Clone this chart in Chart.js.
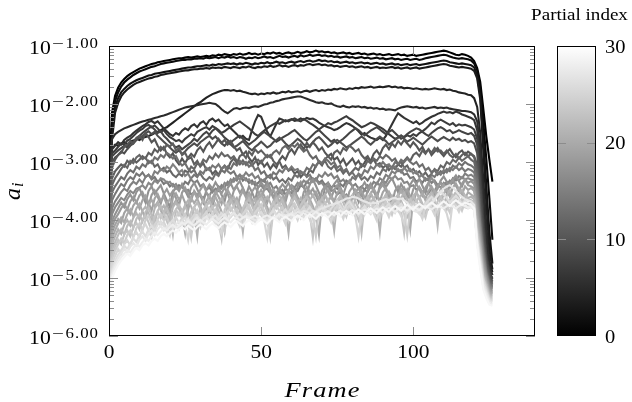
<!DOCTYPE html>
<html>
<head>
<meta charset="utf-8">
<title>Partial amplitudes per frame</title>
<script src="https://cdn.jsdelivr.net/npm/chart.js@4.4.1/dist/chart.umd.min.js"></script>
<style>
  html, body { margin: 0; padding: 0; background: #fff; }
  canvas { display: block; }
</style>
</head>
<body>
<canvas id="chart" width="632" height="402"></canvas>
<script>
// Amplitude a_i of each partial, one value per frame, stored as log10(a_i).
const partial00 = [
  -3.25,-2.15,-1.86,-1.72,-1.63,-1.57,-1.52,-1.48,-1.45,-1.42,
  -1.39,-1.37,-1.35,-1.33,-1.31,-1.30,-1.28,-1.27,-1.26,-1.25,
  -1.24,-1.23,-1.22,-1.21,-1.21,-1.20,-1.19,-1.20,-1.19,-1.18,
  -1.19,-1.18,-1.17,-1.18,-1.16,-1.17,-1.15,-1.16,-1.14,-1.15,
  -1.16,-1.14,-1.15,-1.13,-1.15,-1.14,-1.12,-1.14,-1.13,-1.15,
  -1.13,-1.14,-1.12,-1.13,-1.11,-1.13,-1.12,-1.14,-1.12,-1.11,
  -1.13,-1.12,-1.10,-1.12,-1.11,-1.09,-1.11,-1.10,-1.08,-1.10,
  -1.09,-1.11,-1.10,-1.12,-1.11,-1.13,-1.12,-1.11,-1.13,-1.12,
  -1.14,-1.13,-1.12,-1.14,-1.13,-1.15,-1.14,-1.13,-1.15,-1.14,
  -1.16,-1.15,-1.14,-1.16,-1.15,-1.14,-1.16,-1.15,-1.17,-1.16,
  -1.15,-1.17,-1.16,-1.15,-1.14,-1.13,-1.12,-1.11,-1.10,-1.09,
  -1.08,-1.09,-1.11,-1.13,-1.15,-1.16,-1.14,-1.15,-1.17,-1.20,
  -1.26,-1.38,-1.62,-2.08,-2.56,-2.96,-3.34
];
const partial01 = [
  -3.35,-2.30,-1.95,-1.80,-1.70,-1.63,-1.58,-1.54,-1.50,-1.47,
  -1.44,-1.42,-1.40,-1.38,-1.36,-1.35,-1.33,-1.31,-1.30,-1.29,
  -1.28,-1.27,-1.26,-1.25,-1.24,-1.24,-1.23,-1.23,-1.22,-1.22,
  -1.21,-1.22,-1.20,-1.21,-1.20,-1.19,-1.21,-1.19,-1.20,-1.18,
  -1.20,-1.19,-1.21,-1.19,-1.20,-1.22,-1.20,-1.21,-1.19,-1.21,
  -1.20,-1.18,-1.20,-1.19,-1.21,-1.19,-1.17,-1.19,-1.18,-1.20,
  -1.18,-1.17,-1.19,-1.16,-1.18,-1.17,-1.15,-1.17,-1.16,-1.15,
  -1.17,-1.16,-1.18,-1.17,-1.19,-1.18,-1.20,-1.19,-1.18,-1.20,
  -1.19,-1.21,-1.20,-1.19,-1.21,-1.20,-1.22,-1.21,-1.20,-1.22,
  -1.21,-1.23,-1.22,-1.21,-1.23,-1.22,-1.24,-1.23,-1.22,-1.24,
  -1.23,-1.22,-1.24,-1.23,-1.21,-1.20,-1.19,-1.18,-1.17,-1.16,
  -1.15,-1.16,-1.18,-1.20,-1.21,-1.22,-1.21,-1.22,-1.23,-1.25,
  -1.30,-1.42,-1.72,-2.30,-2.95,-3.62,-4.34
];
const partial02 = [
  -3.40,-2.45,-2.05,-1.90,-1.80,-1.74,-1.69,-1.65,-1.62,-1.59,
  -1.57,-1.55,-1.53,-1.51,-1.50,-1.48,-1.47,-1.46,-1.45,-1.44,
  -1.43,-1.42,-1.41,-1.40,-1.39,-1.38,-1.37,-1.37,-1.36,-1.35,
  -1.35,-1.34,-1.33,-1.34,-1.32,-1.33,-1.31,-1.32,-1.31,-1.30,
  -1.31,-1.30,-1.32,-1.30,-1.31,-1.29,-1.30,-1.32,-1.30,-1.31,
  -1.29,-1.30,-1.28,-1.30,-1.29,-1.27,-1.29,-1.28,-1.30,-1.28,
  -1.27,-1.29,-1.27,-1.26,-1.28,-1.26,-1.25,-1.27,-1.26,-1.24,
  -1.26,-1.25,-1.27,-1.26,-1.28,-1.27,-1.29,-1.28,-1.27,-1.29,
  -1.28,-1.30,-1.29,-1.28,-1.30,-1.29,-1.31,-1.30,-1.29,-1.31,
  -1.30,-1.32,-1.31,-1.30,-1.32,-1.31,-1.33,-1.32,-1.31,-1.33,
  -1.32,-1.31,-1.33,-1.32,-1.31,-1.30,-1.29,-1.28,-1.27,-1.26,
  -1.25,-1.26,-1.28,-1.29,-1.30,-1.31,-1.30,-1.31,-1.32,-1.33,
  -1.37,-1.50,-1.85,-2.60,-3.40,-4.20,-4.75
];
const partial03 = [
  -3.50,-2.60,-2.15,-1.98,-1.87,-1.80,-1.75,-1.71,-1.67,-1.64,
  -1.62,-1.60,-1.58,-1.56,-1.55,-1.53,-1.52,-1.50,-1.49,-1.48,
  -1.47,-1.46,-1.45,-1.44,-1.43,-1.42,-1.42,-1.41,-1.40,-1.40,
  -1.39,-1.39,-1.38,-1.39,-1.37,-1.38,-1.37,-1.38,-1.36,-1.37,
  -1.38,-1.36,-1.37,-1.38,-1.36,-1.37,-1.35,-1.37,-1.38,-1.36,
  -1.37,-1.35,-1.36,-1.34,-1.36,-1.35,-1.33,-1.35,-1.34,-1.36,
  -1.34,-1.33,-1.35,-1.33,-1.34,-1.32,-1.31,-1.33,-1.32,-1.31,
  -1.33,-1.32,-1.34,-1.33,-1.35,-1.34,-1.36,-1.35,-1.34,-1.36,
  -1.35,-1.37,-1.36,-1.35,-1.37,-1.36,-1.38,-1.37,-1.36,-1.38,
  -1.37,-1.38,-1.37,-1.36,-1.38,-1.37,-1.39,-1.38,-1.37,-1.39,
  -1.38,-1.37,-1.39,-1.38,-1.37,-1.36,-1.35,-1.34,-1.33,-1.32,
  -1.31,-1.32,-1.34,-1.35,-1.36,-1.37,-1.36,-1.37,-1.38,-1.39,
  -1.43,-1.56,-1.92,-2.80,-3.70,-4.50,-4.85
];
const partial04 = [
  -3.30,-2.75,-2.70,-2.72,-2.68,-2.66,-2.70,-2.65,-2.63,-2.60,
  -2.62,-2.58,-2.57,-2.55,-2.53,-2.50,-2.48,-2.45,-2.42,-2.40,
  -2.36,-2.32,-2.28,-2.24,-2.20,-2.16,-2.12,-2.08,-2.04,-2.00,
  -1.97,-1.93,-1.89,-1.86,-1.83,-1.81,-1.79,-1.77,-1.76,-1.76,
  -1.77,-1.76,-1.78,-1.77,-1.79,-1.80,-1.82,-1.83,-1.82,-1.84,
  -1.82,-1.83,-1.81,-1.82,-1.80,-1.82,-1.81,-1.79,-1.80,-1.78,
  -1.80,-1.79,-1.78,-1.80,-1.78,-1.77,-1.79,-1.77,-1.76,-1.78,
  -1.76,-1.77,-1.75,-1.76,-1.74,-1.75,-1.73,-1.74,-1.75,-1.73,
  -1.74,-1.72,-1.73,-1.71,-1.72,-1.71,-1.70,-1.72,-1.71,-1.70,
  -1.71,-1.70,-1.69,-1.71,-1.70,-1.72,-1.71,-1.73,-1.72,-1.73,
  -1.74,-1.73,-1.74,-1.75,-1.74,-1.75,-1.74,-1.73,-1.74,-1.75,
  -1.74,-1.76,-1.75,-1.77,-1.78,-1.80,-1.81,-1.82,-1.84,-1.85,
  -1.90,-2.05,-2.50,-3.30,-4.10,-4.70,-4.90
];
const partial05 = [
  -3.20,-2.60,-2.52,-2.48,-2.45,-2.42,-2.40,-2.38,-2.36,-2.34,
  -2.32,-2.30,-2.29,-2.27,-2.26,-2.24,-2.23,-2.21,-2.20,-2.18,
  -2.16,-2.14,-2.12,-2.10,-2.08,-2.06,-2.05,-2.04,-2.03,-2.02,
  -2.01,-2.00,-1.99,-1.98,-1.99,-2.00,-2.04,-2.09,-2.13,-2.16,
  -2.12,-2.08,-2.07,-2.09,-2.07,-2.06,-2.07,-2.05,-2.04,-2.05,
  -2.03,-2.01,-2.00,-1.98,-1.97,-1.95,-1.94,-1.92,-1.91,-1.90,
  -1.89,-1.88,-1.87,-1.87,-1.89,-1.91,-1.93,-1.95,-1.97,-1.98,
  -1.97,-1.99,-2.00,-1.99,-2.02,-2.04,-2.05,-2.03,-2.05,-2.06,
  -2.04,-2.05,-2.04,-2.06,-2.05,-2.07,-2.06,-2.08,-2.07,-2.09,
  -2.08,-2.10,-2.09,-2.10,-2.11,-2.08,-2.06,-2.05,-2.04,-2.05,
  -2.06,-2.05,-2.07,-2.06,-2.08,-2.07,-2.06,-2.05,-2.07,-2.06,
  -2.07,-2.06,-2.08,-2.09,-2.10,-2.11,-2.12,-2.12,-2.13,-2.14,
  -2.18,-2.30,-2.75,-3.50,-4.30,-4.80,-4.95
];
const partial06 = [
  -3.40,-2.78,-2.72,-2.66,-2.70,-2.62,-2.58,-2.55,-2.50,-2.46,
  -2.42,-2.38,-2.35,-2.31,-2.29,-2.33,-2.30,-2.36,-2.42,-2.47,
  -2.52,-2.55,-2.50,-2.53,-2.46,-2.42,-2.45,-2.38,-2.35,-2.40,
  -2.33,-2.30,-2.36,-2.28,-2.25,-2.30,-2.27,-2.33,-2.38,-2.35,
  -2.42,-2.47,-2.52,-2.58,-2.55,-2.60,-2.62,-2.45,-2.30,-2.19,
  -2.22,-2.35,-2.48,-2.56,-2.45,-2.34,-2.25,-2.27,-2.30,-2.28,
  -2.26,-2.29,-2.28,-2.25,-2.27,-2.24,-2.26,-2.25,-2.28,-2.32,
  -2.35,-2.38,-2.40,-2.42,-2.45,-2.43,-2.40,-2.36,-2.33,-2.35,
  -2.38,-2.42,-2.47,-2.53,-2.50,-2.55,-2.58,-2.60,-2.62,-2.58,
  -2.62,-2.55,-2.45,-2.35,-2.25,-2.16,-2.20,-2.24,-2.27,-2.30,
  -2.33,-2.30,-2.35,-2.32,-2.28,-2.25,-2.22,-2.20,-2.17,-2.15,
  -2.13,-2.15,-2.14,-2.16,-2.13,-2.15,-2.18,-2.20,-2.22,-2.24,
  -2.28,-2.45,-3.00,-3.90,-4.55,-4.85,-4.95
];
const partial07 = [
  -3.50,-2.85,-2.80,-2.74,-2.68,-2.70,-2.63,-2.60,-2.55,-2.50,
  -2.46,-2.43,-2.38,-2.36,-2.40,-2.37,-2.42,-2.48,-2.45,-2.52,
  -2.57,-2.60,-2.64,-2.62,-2.66,-2.60,-2.56,-2.52,-2.55,-2.48,
  -2.45,-2.42,-2.40,-2.44,-2.38,-2.41,-2.45,-2.50,-2.47,-2.43,
  -2.40,-2.36,-2.33,-2.30,-2.34,-2.38,-2.42,-2.47,-2.52,-2.55,
  -2.50,-2.46,-2.42,-2.38,-2.35,-2.32,-2.34,-2.31,-2.28,-2.30,
  -2.27,-2.25,-2.28,-2.30,-2.26,-2.29,-2.33,-2.36,-2.40,-2.44,
  -2.40,-2.37,-2.33,-2.35,-2.32,-2.30,-2.27,-2.24,-2.21,-2.25,
  -2.28,-2.32,-2.36,-2.40,-2.38,-2.35,-2.32,-2.34,-2.37,-2.40,
  -2.43,-2.47,-2.52,-2.56,-2.60,-2.58,-2.55,-2.57,-2.54,-2.56,
  -2.52,-2.55,-2.50,-2.47,-2.43,-2.38,-2.32,-2.35,-2.30,-2.27,
  -2.30,-2.33,-2.36,-2.33,-2.38,-2.35,-2.37,-2.36,-2.38,-2.40,
  -2.44,-2.60,-3.20,-4.00,-4.60,-4.90,-5.00
];
const partial08 = [
  -3.60,-2.90,-2.85,-2.80,-2.76,-2.72,-2.75,-2.68,-2.65,-2.60,
  -2.55,-2.50,-2.46,-2.42,-2.39,-2.44,-2.50,-2.47,-2.55,-2.60,
  -2.66,-2.70,-2.75,-2.72,-2.78,-2.74,-2.70,-2.66,-2.60,-2.64,
  -2.58,-2.52,-2.48,-2.53,-2.46,-2.42,-2.47,-2.52,-2.58,-2.62,
  -2.66,-2.62,-2.58,-2.55,-2.60,-2.65,-2.70,-2.66,-2.62,-2.57,
  -2.52,-2.48,-2.52,-2.56,-2.60,-2.65,-2.62,-2.58,-2.55,-2.52,
  -2.48,-2.45,-2.50,-2.55,-2.60,-2.63,-2.58,-2.53,-2.48,-2.45,
  -2.50,-2.55,-2.60,-2.65,-2.62,-2.68,-2.64,-2.60,-2.55,-2.50,
  -2.46,-2.42,-2.45,-2.50,-2.54,-2.50,-2.46,-2.43,-2.40,-2.44,
  -2.48,-2.52,-2.48,-2.45,-2.50,-2.55,-2.60,-2.57,-2.52,-2.48,
  -2.45,-2.42,-2.44,-2.48,-2.52,-2.55,-2.50,-2.46,-2.42,-2.40,
  -2.43,-2.47,-2.45,-2.50,-2.48,-2.45,-2.48,-2.50,-2.52,-2.50,
  -2.55,-2.70,-3.35,-4.10,-4.65,-4.90,-5.02
];
const partial09 = [
  -3.70,-3.00,-2.92,-2.88,-2.82,-2.85,-2.78,-2.72,-2.68,-2.62,
  -2.58,-2.55,-2.50,-2.47,-2.52,-2.48,-2.55,-2.60,-2.65,-2.70,
  -2.75,-2.80,-2.84,-2.80,-2.86,-2.82,-2.76,-2.72,-2.68,-2.72,
  -2.66,-2.62,-2.58,-2.55,-2.60,-2.56,-2.62,-2.68,-2.72,-2.66,
  -2.70,-2.75,-2.72,-2.68,-2.64,-2.70,-2.76,-2.80,-2.74,-2.70,
  -2.65,-2.70,-2.75,-2.72,-2.66,-2.62,-2.58,-2.62,-2.68,-2.73,
  -2.70,-2.65,-2.60,-2.64,-2.70,-2.75,-2.72,-2.66,-2.60,-2.57,
  -2.62,-2.68,-2.74,-2.70,-2.65,-2.62,-2.66,-2.70,-2.75,-2.72,
  -2.68,-2.64,-2.60,-2.56,-2.60,-2.66,-2.70,-2.65,-2.60,-2.56,
  -2.60,-2.64,-2.70,-2.66,-2.62,-2.58,-2.54,-2.60,-2.65,-2.62,
  -2.58,-2.62,-2.66,-2.70,-2.65,-2.60,-2.56,-2.60,-2.64,-2.60,
  -2.57,-2.60,-2.63,-2.58,-2.62,-2.60,-2.64,-2.62,-2.66,-2.64,
  -2.68,-2.85,-3.50,-4.20,-4.70,-4.95,-5.05
];
const partial10 = [
  -3.75,-3.10,-2.96,-2.88,-2.84,-2.74,-2.70,-2.64,-2.68,-2.58,
  -2.55,-2.62,-2.50,-2.57,-2.66,-2.61,-2.72,-2.80,-2.74,-2.86,
  -2.92,-2.85,-2.97,-3.04,-2.94,-3.02,-2.93,-2.86,-2.91,-2.80,
  -2.74,-2.82,-2.72,-2.66,-2.75,-2.68,-2.60,-2.67,-2.62,-2.70,
  -2.64,-2.73,-2.80,-2.76,-2.87,-2.82,-2.93,-3.00,-2.92,-3.05,
  -2.98,-3.08,-3.02,-3.12,-3.04,-3.10,-2.97,-2.90,-2.96,-2.84,
  -2.78,-2.86,-2.76,-2.70,-2.78,-2.67,-2.74,-2.66,-2.72,-2.80,
  -2.75,-2.84,-2.90,-2.86,-2.96,-2.92,-3.02,-2.95,-3.06,-3.00,
  -2.94,-3.04,-2.98,-3.08,-3.01,-2.92,-2.98,-2.86,-2.80,-2.88,
  -2.76,-2.70,-2.78,-2.68,-2.74,-2.64,-2.70,-2.62,-2.68,-2.74,
  -2.66,-2.72,-2.80,-2.74,-2.84,-2.78,-2.88,-2.82,-2.76,-2.84,
  -2.90,-2.83,-2.78,-2.86,-2.92,-2.84,-2.80,-2.88,-2.82,-2.86,
  -2.90,-3.05,-3.70,-4.35,-4.75,-5.00,-5.08
];
const partial11 = [
  -3.88,-3.28,-3.16,-3.10,-3.04,-3.08,-2.98,-3.03,-2.95,-3.01,
  -2.96,-2.90,-2.94,-2.84,-2.88,-2.78,-2.83,-2.74,-2.79,-2.70,
  -2.73,-2.68,-2.80,-2.76,-2.88,-2.84,-2.95,-2.92,-3.04,-2.98,
  -3.08,-3.02,-3.14,-3.10,-3.21,-3.15,-3.22,-3.12,-3.06,-3.12,
  -3.00,-2.94,-3.02,-2.90,-2.86,-2.93,-2.82,-2.88,-2.78,-2.84,
  -2.80,-2.86,-2.92,-2.88,-2.98,-3.04,-2.99,-3.10,-3.06,-3.15,
  -3.12,-3.20,-3.16,-3.26,-3.20,-3.24,-3.14,-3.18,-3.06,-3.00,
  -3.06,-2.95,-2.90,-2.96,-2.84,-2.80,-2.86,-2.76,-2.80,-2.72,
  -2.76,-2.82,-2.78,-2.88,-2.94,-2.90,-3.00,-2.96,-3.05,-3.02,
  -3.10,-3.06,-3.14,-3.08,-3.12,-3.04,-3.08,-2.98,-2.92,-2.98,
  -2.88,-2.84,-2.90,-2.80,-2.86,-2.78,-2.84,-2.76,-2.82,-2.80,
  -2.86,-2.80,-2.88,-2.92,-2.86,-2.94,-2.88,-2.84,-2.90,-2.86,
  -2.92,-3.15,-3.80,-4.40,-4.80,-5.02,-5.10
];
const partial12 = [
  -4.00,-3.40,-3.28,-3.20,-3.12,-3.05,-3.10,-2.98,-3.02,-2.92,
  -2.88,-2.95,-2.92,-3.02,-2.98,-3.08,-3.04,-3.14,-3.10,-3.18,
  -3.14,-3.22,-3.26,-3.20,-3.24,-3.15,-3.18,-3.08,-3.12,-3.02,
  -3.06,-2.96,-3.00,-2.90,-2.95,-2.86,-2.92,-2.84,-2.90,-2.88,
  -2.94,-2.90,-2.98,-3.04,-2.97,-3.05,-2.99,-3.06,-3.00,-2.96,
  -3.02,-2.94,-2.88,-2.92,-2.84,-2.80,-2.86,-2.76,-2.72,-2.78,
  -2.70,-2.74,-2.68,-2.76,-2.82,-2.78,-2.88,-2.94,-2.90,-3.00,
  -3.04,-2.98,-3.08,-3.12,-3.06,-3.16,-3.12,-3.20,-3.14,-3.22,
  -3.16,-3.10,-3.14,-3.04,-3.08,-2.98,-3.02,-2.94,-2.98,-2.90,
  -2.94,-2.88,-2.92,-2.98,-2.94,-3.04,-3.00,-3.10,-3.06,-3.16,
  -3.12,-3.20,-3.16,-3.24,-3.18,-3.26,-3.20,-3.12,-3.16,-3.06,
  -3.10,-3.00,-3.04,-2.96,-3.00,-2.92,-2.98,-2.94,-2.90,-2.96,
  -3.00,-3.22,-3.90,-4.45,-4.85,-5.05,-5.12
];
const partial13 = [
  -4.10,-3.52,-3.42,-3.34,-3.26,-3.30,-3.20,-3.14,-3.18,-3.08,
  -3.12,-3.04,-3.08,-2.98,-3.02,-2.92,-2.96,-2.88,-2.92,-2.84,
  -2.88,-2.94,-2.90,-3.00,-3.06,-3.02,-3.12,-3.18,-3.14,-3.24,
  -3.20,-3.28,-3.32,-3.26,-3.30,-3.20,-3.24,-3.14,-3.18,-3.08,
  -3.12,-3.02,-3.06,-2.98,-3.04,-3.00,-3.08,-3.04,-3.14,-3.10,
  -3.20,-3.16,-3.26,-3.22,-3.30,-3.26,-3.34,-3.30,-3.36,-3.28,
  -3.32,-3.22,-3.26,-3.16,-3.20,-3.10,-3.14,-3.04,-3.08,-2.98,
  -3.02,-2.94,-2.98,-3.04,-3.00,-3.10,-3.06,-3.16,-3.12,-3.22,
  -3.18,-3.26,-3.22,-3.30,-3.26,-3.32,-3.24,-3.28,-3.18,-3.22,
  -3.12,-3.16,-3.06,-3.10,-3.00,-3.04,-2.96,-3.00,-2.94,-3.00,
  -3.04,-3.00,-3.08,-3.04,-3.14,-3.10,-3.18,-3.14,-3.22,-3.16,
  -3.20,-3.12,-3.16,-3.06,-3.10,-3.02,-3.06,-3.00,-3.04,-3.06,
  -3.10,-3.30,-4.00,-4.50,-4.88,-5.08,-5.14
];
const partial14 = [
  -4.22,-3.66,-3.55,-3.46,-3.38,-3.42,-3.32,-3.26,-3.30,-3.20,
  -3.24,-3.18,-3.26,-3.22,-3.30,-3.26,-3.34,-3.30,-3.38,-3.34,
  -3.42,-3.38,-3.46,-3.40,-3.44,-3.34,-3.38,-3.28,-3.22,-3.26,
  -3.16,-3.20,-3.10,-3.14,-3.06,-3.10,-3.04,-3.12,-3.08,-3.16,
  -3.20,-3.16,-3.26,-3.22,-3.32,-3.28,-3.36,-3.32,-3.40,-3.36,
  -3.30,-3.34,-3.24,-3.28,-3.18,-3.22,-3.14,-3.18,-3.10,-3.14,
  -3.08,-3.14,-3.12,-3.20,-3.18,-3.26,-3.22,-3.32,-3.28,-3.36,
  -3.32,-3.40,-3.36,-3.44,-3.40,-3.46,-3.38,-3.42,-3.32,-3.36,
  -3.26,-3.30,-3.20,-3.24,-3.14,-3.18,-3.08,-3.12,-3.04,-3.08,
  -3.00,-3.06,-3.04,-3.12,-3.08,-3.16,-3.14,-3.22,-3.20,-3.28,
  -3.26,-3.34,-3.30,-3.36,-3.28,-3.32,-3.22,-3.26,-3.18,-3.22,
  -3.14,-3.18,-3.10,-3.14,-3.08,-3.14,-3.10,-3.16,-3.12,-3.14,
  -3.18,-3.42,-4.05,-4.55,-4.90,-5.10,-5.16
];
const partial15 = [
  -4.30,-3.80,-3.68,-3.60,-3.52,-3.46,-3.50,-3.40,-3.34,-3.38,
  -3.30,-3.36,-3.26,-3.22,-3.28,-3.16,-3.20,-3.12,-3.16,-3.08,
  -3.12,-3.04,-3.10,-3.18,-3.14,-3.24,-3.20,-3.30,-3.36,-3.32,
  -3.42,-3.38,-3.48,-3.44,-3.52,-3.46,-3.50,-3.40,-3.44,-3.34,
  -3.38,-3.28,-3.32,-3.22,-3.26,-3.18,-3.24,-3.20,-3.28,-3.24,
  -3.34,-3.30,-3.40,-3.36,-3.46,-3.42,-3.52,-3.48,-3.56,-3.50,
  -3.54,-3.46,-3.50,-3.40,-3.44,-3.34,-3.38,-3.28,-3.32,-3.22,
  -3.26,-3.18,-3.24,-3.20,-3.28,-3.24,-3.34,-3.30,-3.38,-3.34,
  -3.42,-3.38,-3.46,-3.42,-3.48,-3.40,-3.44,-3.34,-3.38,-3.28,
  -3.32,-3.22,-3.26,-3.16,-3.20,-3.12,-3.18,-3.10,-3.16,-3.12,
  -3.20,-3.16,-3.26,-3.22,-3.32,-3.28,-3.36,-3.32,-3.40,-3.36,
  -3.42,-3.34,-3.38,-3.28,-3.32,-3.24,-3.28,-3.20,-3.24,-3.22,
  -3.26,-3.52,-4.10,-4.60,-4.92,-5.12,-5.18
];
const partial16 = [
  -4.40,-3.90,-3.78,-3.70,-3.62,-3.66,-3.56,-3.50,-3.54,-3.46,
  -3.44,-3.40,-3.46,-3.36,-3.40,-3.32,-3.36,-3.28,-3.30,-3.36,
  -3.34,-3.42,-3.38,-3.46,-3.42,-3.50,-3.48,-3.56,-3.52,-3.60,
  -3.58,-3.62,-3.54,-3.58,-3.48,-3.52,-3.42,-3.46,-3.36,-3.40,
  -3.30,-3.34,-3.26,-3.30,-3.24,-3.32,-3.30,-3.38,-3.34,-3.44,
  -3.40,-3.48,-3.46,-3.54,-3.50,-3.58,-3.52,-3.56,-3.46,-3.50,
  -3.40,-3.44,-3.36,-3.40,-3.32,-3.36,-3.28,-3.34,-3.30,-3.38,
  -3.36,-3.44,-3.42,-3.50,-3.48,-3.56,-3.52,-3.60,-3.56,-3.62,
  -3.58,-3.62,-3.54,-3.58,-3.48,-3.52,-3.42,-3.46,-3.36,-3.40,
  -3.32,-3.36,-3.26,-3.30,-3.24,-3.30,-3.28,-3.36,-3.34,-3.42,
  -3.40,-3.48,-3.44,-3.52,-3.48,-3.54,-3.46,-3.50,-3.40,-3.44,
  -3.36,-3.40,-3.32,-3.36,-3.28,-3.32,-3.26,-3.30,-3.28,-3.30,
  -3.32,-3.62,-4.15,-4.65,-4.95,-5.15,-5.20
];
const partial17 = [
  -4.50,-4.02,-3.90,-3.80,-3.70,-3.78,-3.64,-3.56,-3.66,-3.52,
  -3.45,-3.58,-3.70,-3.50,-3.42,-3.55,-3.47,-3.40,-3.54,-3.66,
  -3.78,-3.52,-3.43,-3.50,-3.38,-3.49,-3.60,-3.44,-3.36,-3.47,
  -3.58,-3.70,-3.48,-3.39,-3.46,-3.35,-3.44,-3.57,-3.68,-3.45,
  -3.37,-3.48,-3.40,-3.33,-3.45,-3.58,-3.42,-3.52,-3.66,-3.44,
  -3.35,-3.43,-3.34,-3.46,-3.59,-3.72,-3.47,-3.38,-3.45,-3.36,
  -3.48,-3.60,-3.42,-3.34,-3.44,-3.55,-3.38,-3.30,-3.41,-3.53,
  -3.66,-3.45,-3.36,-3.47,-3.38,-3.31,-3.43,-3.56,-3.40,-3.32,
  -3.42,-3.54,-3.68,-3.44,-3.35,-3.45,-3.37,-3.50,-3.62,-3.41,
  -3.33,-3.43,-3.35,-3.28,-3.40,-3.52,-3.38,-3.47,-3.58,-3.39,
  -3.30,-3.38,-3.29,-3.41,-3.53,-3.36,-3.27,-3.35,-3.46,-3.32,
  -3.25,-3.34,-3.44,-3.30,-3.23,-3.33,-3.42,-3.30,-3.36,-3.33,
  -3.38,-3.72,-4.20,-4.70,-4.98,-5.18,-5.22
];
const partial18 = [
  -4.60,-4.12,-3.98,-3.90,-3.80,-3.72,-3.82,-3.68,-3.60,-3.70,
  -3.58,-3.52,-3.64,-3.76,-3.57,-3.49,-3.60,-3.72,-3.55,-3.47,
  -3.58,-3.50,-3.62,-3.75,-3.53,-3.44,-3.55,-3.66,-3.50,-3.58,
  -3.48,-3.40,-3.52,-3.64,-3.78,-3.56,-3.46,-3.54,-3.44,-3.55,
  -3.68,-3.50,-3.42,-3.53,-3.45,-3.57,-3.70,-3.51,-3.43,-3.52,
  -3.63,-3.48,-3.40,-3.50,-3.62,-3.53,-3.45,-3.56,-3.69,-3.50,
  -3.41,-3.50,-3.61,-3.74,-3.52,-3.43,-3.54,-3.46,-3.58,-3.70,
  -3.50,-3.42,-3.51,-3.62,-3.48,-3.40,-3.50,-3.61,-3.73,-3.51,
  -3.43,-3.52,-3.45,-3.57,-3.69,-3.49,-3.41,-3.50,-3.60,-3.46,
  -3.39,-3.49,-3.60,-3.72,-3.50,-3.42,-3.52,-3.44,-3.55,-3.66,
  -3.47,-3.38,-3.47,-3.58,-3.44,-3.36,-3.46,-3.57,-3.42,-3.35,
  -3.44,-3.53,-3.38,-3.31,-3.41,-3.50,-3.37,-3.30,-3.40,-3.42,
  -3.46,-3.80,-4.30,-4.75,-5.02,-5.20,-5.24
];
const partial19 = [
  -4.70,-4.22,-4.08,-3.98,-4.05,-3.88,-3.80,-3.90,-3.75,-3.68,
  -3.80,-3.66,-3.58,-3.70,-3.84,-3.63,-3.55,-3.67,-3.60,-3.73,
  -3.88,-3.62,-3.54,-3.65,-3.57,-3.70,-3.83,-3.60,-3.52,-3.63,
  -3.55,-3.67,-3.80,-3.95,-3.62,-3.51,-3.60,-3.72,-3.56,-3.48,
  -3.58,-3.70,-3.84,-3.60,-3.50,-3.61,-3.53,-3.65,-3.79,-3.57,
  -3.48,-3.58,-3.70,-3.55,-3.47,-3.57,-3.69,-3.83,-3.58,-3.49,
  -3.60,-3.52,-3.64,-3.78,-3.92,-3.60,-3.50,-3.59,-3.51,-3.63,
  -3.76,-3.56,-3.47,-3.57,-3.68,-3.54,-3.46,-3.58,-3.70,-3.85,
  -3.58,-3.48,-3.57,-3.49,-3.61,-3.74,-3.55,-3.46,-3.56,-3.67,
  -3.52,-3.45,-3.56,-3.68,-3.82,-3.56,-3.46,-3.55,-3.47,-3.59,
  -3.72,-3.52,-3.43,-3.53,-3.64,-3.50,-3.42,-3.52,-3.63,-3.47,
  -3.39,-3.49,-3.60,-3.44,-3.37,-3.47,-3.56,-3.42,-3.48,-3.45,
  -3.50,-3.90,-4.35,-4.80,-5.05,-5.22,-5.26
];
const partial20 = [
  -4.80,-4.32,-4.18,-4.06,-3.96,-4.04,-3.90,-3.82,-3.94,-3.80,
  -3.72,-3.85,-3.98,-3.74,-3.65,-3.77,-3.69,-3.82,-3.96,-3.72,
  -3.64,-3.75,-3.66,-3.79,-3.92,-4.22,-3.73,-3.62,-3.71,-3.63,
  -3.76,-3.90,-3.68,-3.58,-3.69,-3.60,-3.72,-3.86,-4.18,-3.70,
  -3.60,-3.70,-3.62,-3.74,-3.88,-3.66,-3.56,-3.67,-3.79,-3.64,
  -3.55,-3.66,-3.78,-3.92,-3.68,-3.58,-3.69,-3.60,-3.72,-3.86,
  -3.64,-3.54,-3.65,-3.77,-3.62,-3.53,-3.64,-3.76,-3.90,-4.25,
  -3.70,-3.58,-3.68,-3.59,-3.71,-3.84,-3.62,-3.53,-3.63,-3.75,
  -3.60,-3.51,-3.62,-3.74,-3.88,-3.64,-3.54,-3.64,-3.56,-3.68,
  -3.81,-3.60,-3.51,-3.61,-3.73,-3.58,-3.50,-3.60,-3.72,-4.15,
  -3.62,-3.52,-3.62,-3.54,-3.66,-3.79,-3.58,-3.49,-3.59,-3.70,
  -3.55,-3.47,-3.57,-3.68,-3.52,-3.45,-3.55,-3.64,-3.52,-3.56,
  -3.60,-4.00,-4.40,-4.85,-5.08,-5.25,-5.28
];
const partial21 = [
  -4.90,-4.42,-4.28,-4.16,-4.24,-4.08,-4.00,-4.10,-3.96,-3.88,
  -3.99,-3.84,-3.77,-3.89,-4.02,-3.80,-3.72,-3.83,-3.75,-3.88,
  -4.01,-3.78,-3.70,-3.80,-3.93,-3.74,-3.66,-3.77,-3.90,-4.28,
  -3.76,-3.66,-3.75,-3.67,-3.79,-3.92,-3.71,-3.62,-3.73,-3.86,
  -3.68,-3.60,-3.71,-3.84,-4.20,-3.72,-3.62,-3.72,-3.64,-3.77,
  -3.90,-3.68,-3.60,-3.70,-3.83,-3.66,-3.58,-3.69,-3.82,-4.22,
  -3.70,-3.60,-3.70,-3.62,-3.74,-3.87,-3.66,-3.57,-3.68,-3.81,
  -3.63,-3.56,-3.67,-3.80,-4.18,-3.68,-3.58,-3.68,-3.60,-3.72,
  -3.85,-3.64,-3.56,-3.66,-3.78,-3.62,-3.54,-3.65,-3.77,-4.20,
  -3.66,-3.56,-3.66,-3.58,-3.70,-3.83,-3.62,-3.53,-3.64,-3.76,
  -3.60,-3.52,-3.63,-3.75,-3.88,-3.62,-3.52,-3.62,-3.54,-3.66,
  -3.78,-3.57,-3.49,-3.59,-3.70,-3.55,-3.48,-3.58,-3.62,-3.60,
  -3.64,-4.10,-4.45,-4.90,-5.10,-5.28,-5.30
];
const partial22 = [
  -5.00,-4.52,-4.38,-4.26,-4.16,-4.25,-4.10,-4.02,-4.14,-3.98,
  -3.90,-4.03,-3.86,-3.79,-3.92,-4.06,-3.84,-3.76,-3.87,-3.80,
  -3.92,-4.25,-3.82,-3.74,-3.84,-3.76,-3.88,-4.02,-3.78,-3.70,
  -3.81,-3.94,-3.76,-3.68,-3.79,-3.72,-3.84,-3.98,-4.10,-3.76,
  -3.66,-3.76,-3.68,-3.80,-3.93,-3.72,-3.64,-3.75,-3.88,-3.70,
  -3.62,-3.72,-3.85,-4.24,-3.74,-3.64,-3.74,-3.66,-3.78,-3.91,
  -3.70,-3.61,-3.72,-3.85,-3.68,-3.60,-3.71,-3.83,-3.98,-3.72,
  -3.62,-3.72,-3.64,-3.76,-3.89,-3.68,-3.59,-3.70,-3.83,-3.66,
  -3.58,-3.68,-3.80,-4.22,-3.70,-3.60,-3.70,-3.62,-3.74,-3.87,
  -3.66,-3.57,-3.68,-3.80,-3.64,-3.56,-3.67,-3.79,-3.93,-3.68,
  -3.58,-3.68,-3.60,-3.72,-3.85,-3.64,-3.55,-3.66,-4.10,-3.62,
  -3.54,-3.64,-3.76,-3.60,-3.52,-3.62,-3.73,-3.58,-3.64,-3.66,
  -3.70,-4.15,-4.50,-4.95,-5.12,-5.30,-5.32
];
const partial23 = [
  -5.05,-4.60,-4.46,-4.34,-4.42,-4.25,-4.18,-4.28,-4.12,-4.05,
  -4.16,-3.99,-3.92,-4.04,-4.18,-3.94,-3.86,-3.97,-3.89,-4.02,
  -4.15,-3.90,-3.82,-3.92,-3.84,-3.96,-4.10,-3.86,-3.78,-3.89,
  -4.02,-3.82,-3.74,-3.84,-3.77,-3.89,-4.03,-4.32,-3.82,-3.73,
  -3.84,-3.76,-3.88,-4.01,-3.79,-3.70,-3.81,-3.94,-3.76,-3.68,
  -3.79,-3.92,-4.06,-3.80,-3.70,-3.80,-3.72,-3.84,-3.97,-3.76,
  -3.67,-3.78,-3.91,-3.74,-3.66,-3.77,-3.90,-4.30,-3.78,-3.68,
  -3.78,-3.70,-3.82,-3.95,-3.74,-3.65,-3.76,-3.89,-3.72,-3.64,
  -3.74,-3.86,-4.00,-3.76,-3.66,-3.76,-3.68,-3.80,-3.93,-3.72,
  -3.63,-3.74,-3.86,-3.70,-3.62,-3.73,-3.85,-4.22,-3.74,-3.64,
  -3.74,-3.66,-3.78,-3.91,-3.70,-3.61,-3.72,-3.84,-3.68,-3.60,
  -3.70,-3.82,-3.66,-3.58,-3.68,-3.79,-3.64,-3.70,-3.72,-3.68,
  -3.74,-4.20,-4.55,-4.98,-5.15,-5.32,-5.34
];
const partial24 = [
  -5.10,-4.68,-4.53,-4.42,-4.32,-4.40,-4.26,-4.18,-4.30,-4.14,
  -4.06,-4.18,-4.00,-3.93,-4.06,-4.20,-3.98,-3.90,-4.01,-3.94,
  -4.07,-4.20,-3.95,-3.87,-3.97,-3.89,-4.01,-4.30,-3.91,-3.83,
  -3.94,-4.07,-3.87,-3.79,-3.90,-3.82,-3.94,-4.08,-4.20,-3.87,
  -3.78,-3.89,-3.81,-3.93,-4.06,-3.84,-3.75,-3.86,-3.99,-3.81,
  -3.73,-3.84,-3.97,-4.30,-3.85,-3.75,-3.85,-3.77,-3.89,-4.02,
  -3.80,-3.72,-3.83,-3.96,-3.79,-3.71,-3.82,-3.95,-4.28,-3.83,
  -3.73,-3.83,-3.75,-3.87,-4.00,-3.79,-3.70,-3.81,-3.94,-3.77,
  -3.69,-3.79,-3.91,-4.05,-3.81,-3.71,-3.81,-3.73,-3.85,-3.98,
  -3.77,-3.68,-3.79,-3.91,-3.75,-3.67,-3.78,-3.90,-4.26,-3.79,
  -3.69,-3.79,-3.71,-3.83,-3.96,-3.75,-3.66,-3.77,-3.89,-3.73,
  -3.65,-3.75,-3.87,-3.71,-3.63,-3.73,-3.84,-3.69,-3.75,-3.74,
  -3.78,-4.25,-4.60,-5.00,-5.18,-5.34,-5.36
];
const partial25 = [
  -5.15,-4.76,-4.62,-4.50,-4.58,-4.42,-4.35,-4.44,-4.28,-4.21,
  -4.30,-4.14,-4.07,-4.18,-4.30,-4.08,-4.00,-4.10,-4.03,-4.15,
  -4.27,-4.02,-3.95,-4.05,-3.97,-4.09,-4.34,-3.98,-3.91,-4.01,
  -4.13,-3.93,-3.86,-3.96,-3.89,-4.00,-4.13,-4.24,-3.93,-3.85,
  -3.95,-3.88,-3.99,-4.11,-3.90,-3.82,-3.92,-4.04,-3.87,-3.80,
  -3.90,-4.02,-4.30,-3.90,-3.81,-3.91,-3.84,-3.95,-4.07,-3.86,
  -3.78,-3.88,-4.00,-3.84,-3.77,-3.87,-3.99,-4.12,-3.87,-3.78,
  -3.88,-3.80,-3.92,-4.04,-3.83,-3.75,-3.86,-3.98,-3.81,-3.74,
  -3.84,-3.95,-4.28,-3.85,-3.76,-3.85,-3.78,-3.89,-4.01,-3.81,
  -3.73,-3.83,-3.95,-3.79,-3.72,-3.82,-3.93,-4.06,-3.82,-3.73,
  -3.82,-3.75,-3.86,-3.98,-3.78,-3.70,-3.80,-3.91,-3.76,-3.69,
  -3.78,-3.89,-4.10,-3.67,-3.76,-3.86,-3.72,-3.78,-3.80,-3.77,
  -3.82,-4.30,-4.65,-5.02,-5.20,-5.36,-5.38
];
const partial26 = [
  -5.20,-4.85,-4.70,-4.60,-4.52,-4.44,-4.50,-4.40,-4.32,-4.38,
  -4.26,-4.20,-4.28,-4.16,-4.10,-4.18,-4.08,-4.02,-4.10,-4.20,
  -4.06,-4.00,-4.08,-4.16,-4.02,-3.96,-4.04,-4.12,-3.98,-3.92,
  -4.00,-4.08,-3.96,-3.90,-3.98,-4.06,-3.94,-3.88,-3.96,-4.04,
  -3.92,-3.86,-3.94,-4.02,-4.10,-3.94,-3.88,-3.96,-4.04,-3.92,
  -3.86,-3.94,-4.02,-3.90,-3.84,-3.92,-4.00,-3.88,-3.82,-3.90,
  -3.98,-3.86,-3.80,-3.88,-3.96,-3.84,-3.78,-3.86,-3.94,-3.82,
  -3.76,-3.84,-3.92,-3.80,-3.74,-3.68,-3.76,-3.84,-3.74,-3.68,
  -3.76,-3.84,-3.92,-3.82,-3.76,-3.84,-3.90,-3.80,-3.74,-3.82,
  -3.88,-3.78,-3.72,-3.80,-3.88,-3.78,-3.72,-3.80,-3.88,-3.82,
  -3.76,-3.84,-3.90,-3.80,-3.72,-3.66,-3.60,-3.66,-3.56,-3.50,
  -3.56,-3.62,-3.70,-3.64,-3.58,-3.64,-3.72,-3.66,-3.72,-3.76,
  -3.82,-4.35,-4.70,-5.05,-5.24,-5.38,-5.40
];
const partial27 = [
  -5.25,-4.90,-4.76,-4.66,-4.58,-4.50,-4.56,-4.46,-4.40,-4.46,
  -4.34,-4.28,-4.36,-4.24,-4.18,-4.26,-4.16,-4.10,-4.18,-4.12,
  -4.06,-4.14,-4.08,-4.02,-4.10,-4.04,-3.98,-4.06,-4.00,-3.96,
  -4.04,-3.98,-3.94,-4.02,-3.96,-3.92,-4.00,-3.94,-3.90,-3.98,
  -3.92,-3.88,-3.94,-3.90,-3.96,-3.92,-3.94,-3.98,-4.00,-4.02,
  -3.98,-4.00,-4.02,-3.98,-3.94,-3.96,-3.92,-3.90,-3.92,-3.90,
  -3.88,-3.90,-3.86,-3.88,-3.84,-3.86,-3.88,-3.84,-3.86,-3.82,
  -3.80,-3.78,-3.76,-3.74,-3.72,-3.71,-3.68,-3.66,-3.63,-3.62,
  -3.60,-3.61,-3.63,-3.66,-3.68,-3.70,-3.72,-3.70,-3.71,-3.68,
  -3.66,-3.64,-3.66,-3.63,-3.62,-3.64,-3.63,-3.66,-3.70,-3.78,
  -3.84,-3.86,-3.82,-3.78,-3.76,-3.77,-3.72,-3.64,-3.58,-3.52,
  -3.46,-3.42,-3.40,-3.44,-3.50,-3.56,-3.60,-3.64,-3.66,-3.68,
  -3.74,-4.35,-4.75,-5.10,-5.25,-5.40,-5.42
];
const partial28 = [
  -5.30,-4.95,-4.82,-4.72,-4.64,-4.58,-4.52,-4.56,-4.48,-4.42,
  -4.46,-4.38,-4.32,-4.36,-4.28,-4.22,-4.26,-4.20,-4.14,-4.18,
  -4.12,-4.08,-4.14,-4.10,-4.04,-4.08,-4.02,-4.06,-4.10,-4.04,
  -4.00,-4.04,-4.08,-4.02,-3.98,-4.02,-4.06,-4.00,-3.96,-4.00,
  -4.04,-3.98,-3.96,-4.00,-3.96,-3.94,-3.98,-3.95,-3.93,-3.96,
  -3.98,-3.94,-3.92,-3.95,-3.97,-3.94,-3.90,-3.93,-3.96,-3.92,
  -3.90,-3.94,-3.96,-3.92,-3.88,-3.92,-3.95,-3.90,-3.86,-3.90,
  -3.93,-3.88,-3.85,-3.88,-3.92,-3.87,-3.84,-3.87,-3.90,-3.86,
  -3.83,-3.86,-3.89,-3.85,-3.82,-3.85,-3.88,-3.84,-3.80,-3.84,
  -3.87,-3.82,-3.79,-3.82,-3.86,-3.81,-3.78,-3.80,-3.84,-3.80,
  -3.77,-3.80,-3.83,-3.79,-3.76,-3.79,-3.82,-3.78,-3.75,-3.78,
  -3.80,-3.76,-3.74,-3.77,-3.80,-3.76,-3.73,-3.76,-3.79,-3.78,
  -3.82,-4.40,-4.80,-5.15,-5.30,-5.44,-5.45
];
const partial29 = [
  -5.35,-5.00,-4.88,-4.78,-4.70,-4.64,-4.58,-4.62,-4.54,-4.48,
  -4.52,-4.44,-4.40,-4.44,-4.36,-4.32,-4.36,-4.28,-4.24,-4.28,
  -4.22,-4.18,-4.22,-4.16,-4.12,-4.16,-4.10,-4.14,-4.18,-4.12,
  -4.08,-4.12,-4.16,-4.10,-4.06,-4.10,-4.14,-4.08,-4.04,-4.08,
  -4.12,-4.06,-4.02,-4.06,-4.10,-4.04,-4.00,-4.04,-4.08,-4.02,
  -3.98,-4.02,-4.06,-4.00,-3.96,-4.00,-4.04,-3.98,-3.94,-3.98,
  -4.02,-3.96,-3.92,-3.96,-4.00,-3.94,-3.90,-3.94,-3.98,-3.92,
  -3.88,-3.92,-3.96,-3.90,-3.86,-3.90,-3.94,-3.88,-3.84,-3.88,
  -3.92,-3.86,-3.82,-3.86,-3.90,-3.84,-3.80,-3.84,-3.88,-3.82,
  -3.78,-3.82,-3.86,-3.80,-3.76,-3.80,-3.84,-3.78,-3.74,-3.78,
  -3.82,-3.76,-3.72,-3.76,-3.80,-3.74,-3.70,-3.74,-3.78,-3.72,
  -3.68,-3.72,-3.76,-3.70,-3.66,-3.70,-3.74,-3.70,-3.72,-3.74,
  -3.80,-4.45,-4.85,-5.20,-5.35,-5.46,-5.48
];

const partials = [
  partial00, partial01, partial02, partial03, partial04, partial05,
  partial06, partial07, partial08, partial09, partial10, partial11,
  partial12, partial13, partial14, partial15, partial16, partial17,
  partial18, partial19, partial20, partial21, partial22, partial23,
  partial24, partial25, partial26, partial27, partial28, partial29
];

const xTicks = [0, 50, 100];
const yDecades = [-6, -5, -4, -3, -2, -1];
const colorbarTicks = [0, 10, 20, 30];
const colorbarMax = 30;

// ---- drawing helpers ----
const SERIF = '"Liberation Serif", "Times New Roman", serif';

function fontOf(size, italic) {
  return (italic ? 'italic ' : '') + size + 'px ' + SERIF;
}
// width of a string drawn glyph by glyph, widened by `stretch` and `spacing`
function textWidth(ctx, str, size, opts) {
  opts = opts || {};
  const stretch = opts.stretch || 1, spacing = opts.spacing || 0;
  ctx.save();
  ctx.font = fontOf(size, opts.italic);
  let w = 0;
  for (const ch of str) w += ctx.measureText(ch).width * stretch;
  ctx.restore();
  return w + spacing * (Array.from(str).length - 1);
}
function drawText(ctx, str, x, y, size, opts) {
  opts = opts || {};
  const stretch = opts.stretch || 1, spacing = opts.spacing || 0;
  const w = textWidth(ctx, str, size, opts);
  let cx = x;
  if (opts.align === 'right') cx = x - w;
  else if (opts.align === 'center') cx = x - w / 2;
  ctx.save();
  ctx.font = fontOf(size, opts.italic);
  ctx.fillStyle = '#000';
  ctx.textBaseline = 'alphabetic';
  ctx.textAlign = 'left';
  for (const ch of str) {
    ctx.save();
    ctx.translate(cx, y);
    ctx.scale(stretch, 1);
    ctx.fillText(ch, 0, 0);
    ctx.restore();
    cx += ctx.measureText(ch).width * stretch + spacing;
  }
  ctx.restore();
  return w;
}
function hline(ctx, x0, x1, y) {
  ctx.beginPath(); ctx.moveTo(x0, y); ctx.lineTo(x1, y); ctx.stroke();
}
function vline(ctx, x, y0, y1) {
  ctx.beginPath(); ctx.moveTo(x, y0); ctx.lineTo(x, y1); ctx.stroke();
}
function grayFor(index) {
  const g = Math.round(255 * index / colorbarMax);
  return 'rgb(' + g + ',' + g + ',' + g + ')';
}

// Frame, ticks, tick labels, axis titles and the colour bar.
const decorations = {
  id: 'decorations',
  afterDraw(chart) {
    const ctx = chart.ctx;
    const a = chart.chartArea;
    const xs = chart.scales.x, ys = chart.scales.y, cb = chart.scales.cb;
    const MAJOR = 9, MINOR = 5;

    ctx.save();
    // tick marks
    ctx.strokeStyle = '#8c8c8c';
    ctx.lineWidth = 1;
    xTicks.forEach(v => {
      const px = Math.round(xs.getPixelForValue(v)) + 0.5;
      vline(ctx, px, a.bottom, a.bottom - MAJOR);
      vline(ctx, px, a.top, a.top + MAJOR);
    });
    yDecades.forEach(e => {
      const py = Math.round(ys.getPixelForValue(Math.pow(10, e))) + 0.5;
      hline(ctx, a.left, a.left + MAJOR, py);
      hline(ctx, a.right, a.right - MAJOR, py);
      if (e < -1) {
        for (let m = 2; m <= 9; m++) {
          const pm = Math.round(ys.getPixelForValue(m * Math.pow(10, e))) + 0.5;
          hline(ctx, a.left, a.left + MINOR, pm);
          hline(ctx, a.right, a.right - MINOR, pm);
        }
      }
    });

    // plot frame
    ctx.strokeStyle = '#000';
    ctx.lineWidth = 1;
    ctx.strokeRect(a.left + 0.5, a.top + 0.5, a.right - a.left - 1, a.bottom - a.top - 1);

    // x tick labels
    xTicks.forEach(v => {
      drawText(ctx, String(v), xs.getPixelForValue(v), a.bottom + 22, 18,
               { align: 'center', stretch: 1.19 });
    });

    // y tick labels: 10^{-k.00}
    const supRight = a.left - 11;
    const SUP = 14;
    const minusOpts = { stretch: 1.5 };
    const numOpts = { stretch: 1.2, spacing: 1 };
    yDecades.forEach(e => {
      const py = ys.getPixelForValue(Math.pow(10, e));
      const num = Math.abs(e).toFixed(2);
      const minusW = textWidth(ctx, '\u2212', SUP, minusOpts);
      const numW = textWidth(ctx, num, SUP, numOpts);
      const sx = supRight - (minusW + 1.5 + numW);
      drawText(ctx, '\u2212', sx, py + 1.5, SUP, minusOpts);
      drawText(ctx, num, sx + minusW + 1.5, py + 1.5, SUP, numOpts);
      drawText(ctx, '10', sx - 1.5, py + 8.3, 19, { align: 'right', stretch: 1.14 });
    });

    // y axis title a_i
    ctx.save();
    ctx.translate(20, (a.top + a.bottom) / 2);
    ctx.rotate(-Math.PI / 2);
    const aw = textWidth(ctx, 'a', 24, { italic: true });
    drawText(ctx, 'a', -aw / 2 - 3, 0, 24, { italic: true });
    drawText(ctx, 'i', aw / 2 - 2, 3, 16, { italic: true });
    ctx.restore();

    // x axis title
    drawText(ctx, 'Frame', (a.left + a.right) / 2, a.bottom + 61, 22,
             { italic: true, align: 'center', stretch: 1.2, spacing: 1.2 });

    // colour bar
    const top = cb.getPixelForValue(colorbarMax), bottom = cb.getPixelForValue(0);
    const left = a.right + 22, width = 39;
    const grad = ctx.createLinearGradient(0, bottom, 0, top);
    grad.addColorStop(0, '#000');
    grad.addColorStop(1, '#fff');
    ctx.fillStyle = grad;
    ctx.fillRect(left, top, width, bottom - top);
    ctx.strokeStyle = '#8c8c8c';
    colorbarTicks.forEach(v => {
      if (v === 0 || v === colorbarMax) return;
      const py = Math.round(cb.getPixelForValue(v)) + 0.5;
      hline(ctx, left, left + MAJOR, py);
      hline(ctx, left + width, left + width - MAJOR, py);
    });
    ctx.strokeStyle = '#000';
    ctx.strokeRect(left + 0.5, top + 0.5, width - 1, bottom - top - 1);
    colorbarTicks.forEach(v => {
      drawText(ctx, String(v), left + width + 9, cb.getPixelForValue(v) + 6.6, 18, { stretch: 1.14 });
    });
    drawText(ctx, 'Partial index', 579.5, 20, 17, { align: 'center', stretch: 1.12 });
    ctx.restore();
  }
};

const datasets = partials.map((logs, i) => ({
  label: 'Partial ' + i,
  data: logs.map((v, frame) => ({ x: frame, y: Math.pow(10, v) })),
  borderColor: grayFor(i),
  borderWidth: 2.1,
  pointRadius: 0,
  fill: false,
  tension: 0,
  order: partials.length - i
}));

new Chart(document.getElementById('chart'), {
  type: 'line',
  data: { datasets },
  options: {
    responsive: false,
    animation: false,
    events: [],
    layout: { padding: { top: 46, left: 0, right: 0, bottom: 0 } },
    plugins: { legend: { display: false }, tooltip: { enabled: false } },
    scales: {
      x: {
        type: 'linear', min: 0, max: 140,
        grid: { display: false, drawTicks: false },
        border: { display: false },
        ticks: { display: false },
        afterBuildTicks: s => { s.ticks = xTicks.map(v => ({ value: v })); },
        afterFit: s => { s.height = 66; }
      },
      y: {
        type: 'logarithmic', min: 1e-6, max: 1e-1,
        grid: { display: false, drawTicks: false },
        border: { display: false },
        ticks: { display: false },
        afterFit: s => { s.width = 109; }
      },
      cb: {
        type: 'linear', position: 'right', min: 0, max: colorbarMax,
        grid: { display: false, drawTicks: false },
        border: { display: false },
        ticks: { display: false },
        afterFit: s => { s.width = 97; }
      }
    }
  },
  plugins: [decorations]
});
</script>
</body>
</html>
